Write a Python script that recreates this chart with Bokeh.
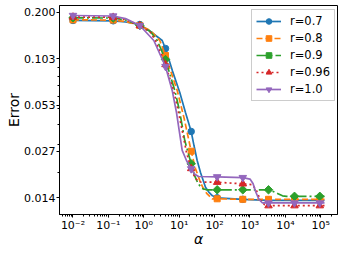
import numpy as np
from bokeh.plotting import figure
from bokeh.models import Range1d, FixedTicker, CustomJSTickFormatter, Legend, LegendItem
from bokeh.embed import file_html
from bokeh.resources import INLINE

# ---------------- data ----------------
series_labels = ["r=0.7", "r=0.8", "r=0.9", "r=0.96", "r=1.0"]

# alpha positions of the markers (log10 of alpha)
marker_log10_alpha = [-2.0, -0.864, -0.113, 0.613, 1.339, 2.073, 2.797, 3.523, 4.257, 4.972]

err_markers_r07 = [0.1777, 0.1768, 0.1677, 0.1189, 0.0362, 0.0140, 0.0137, 0.0135, 0.0135, 0.0135]
err_markers_r08 = [0.1792, 0.1787, 0.1654, 0.1076, 0.0273, 0.0138, 0.0137, 0.0137, 0.0137, 0.0137]
err_markers_r09 = [0.1846, 0.1840, 0.1654, 0.1015, 0.0228, 0.0157, 0.0157, 0.0157, 0.0143, 0.0143]
err_markers_r096 = [0.1867, 0.1861, 0.1654, 0.0945, 0.0213, 0.0175, 0.0171, 0.0125, 0.0125, 0.0125]
err_markers_r10 = [0.1908, 0.1894, 0.1654, 0.0919, 0.0212, 0.0189, 0.0187, 0.0130, 0.0130, 0.0130]

# curve points (log10 alpha, error)
line_log10_alpha_r07 = [-2.0, -0.864, -0.517, -0.113, 0.189, 0.520, 0.613, 0.811, 1.017, 1.178, 1.339,
                        1.418, 1.508, 1.602, 1.743, 1.836, 1.941, 2.073, 2.797, 3.523, 4.257, 5.105]
line_err_r07 = [0.1777, 0.1768, 0.1738, 0.1677, 0.1517, 0.1334, 0.1189, 0.0860, 0.0633, 0.0475, 0.0362,
                0.0296, 0.0239, 0.0201, 0.0163, 0.0152, 0.0144, 0.0140, 0.0137, 0.0135, 0.0135, 0.0135]

line_log10_alpha_r08 = [-2.0, -0.864, -0.517, -0.113, 0.189, 0.452, 0.613, 0.774, 0.944, 1.141, 1.339,
                        1.460, 1.602, 1.701, 1.791, 1.932, 2.073, 2.797, 3.523, 4.257, 5.105]
line_err_r08 = [0.1792, 0.1787, 0.1749, 0.1654, 0.1538, 0.1334, 0.1076, 0.0843, 0.0652, 0.0436, 0.0273,
                0.0213, 0.0174, 0.0157, 0.0148, 0.0138, 0.0138, 0.0137, 0.0137, 0.0137, 0.0137]

line_log10_alpha_r09 = [-2.0, -0.864, -0.517, -0.113, 0.189, 0.379, 0.613, 0.740, 0.876, 1.008, 1.158,
                        1.339, 1.432, 1.531, 1.644, 1.771, 2.073, 2.797, 3.523, 3.636, 3.777, 3.918,
                        4.031, 4.257, 5.105]
line_err_r09 = [0.1846, 0.1840, 0.1788, 0.1654, 0.1516, 0.1334, 0.1015, 0.0819, 0.0652, 0.0489, 0.0318,
                0.0228, 0.0193, 0.0172, 0.0160, 0.0157, 0.0157, 0.0157, 0.0157, 0.0154, 0.0149, 0.0144,
                0.0143, 0.0143, 0.0143]

line_log10_alpha_r096 = [-2.0, -0.864, -0.517, -0.113, 0.189, 0.331, 0.613, 0.726, 0.839, 0.952, 1.085,
                         1.206, 1.339, 1.432, 1.531, 1.630, 2.073, 2.797, 3.071, 3.184, 3.297, 3.410,
                         3.523, 4.257, 5.105]
line_err_r096 = [0.1867, 0.1861, 0.1800, 0.1654, 0.1496, 0.1334, 0.0945, 0.0785, 0.0652, 0.0511, 0.0367,
                 0.0268, 0.0213, 0.0190, 0.0177, 0.0175, 0.0175, 0.0171, 0.0169, 0.0155, 0.0135, 0.0127,
                 0.0125, 0.0125, 0.0125]

line_log10_alpha_r10 = [-2.0, -0.864, -0.517, -0.113, 0.283, 0.613, 0.802, 0.924, 1.085, 1.206, 1.339,
                        1.432, 1.545, 2.073, 2.797, 3.000, 3.085, 3.169, 3.254, 3.353, 3.523, 4.257, 5.105]
line_err_r10 = [0.1908, 0.1894, 0.1826, 0.1654, 0.1334, 0.0919, 0.0652, 0.0475, 0.0276, 0.0239, 0.0212,
                0.0197, 0.0190, 0.0189, 0.0187, 0.0183, 0.0172, 0.0151, 0.0137, 0.0130, 0.0130, 0.0130, 0.0130]

ytick_values = [0.200, 0.1029, 0.0529, 0.0272, 0.0140]
ytick_minor = [0.02, 0.03, 0.04, 0.05, 0.06, 0.07, 0.08, 0.09]
xtick_values = [1e-2, 1e-1, 1e0, 1e1, 1e2, 1e3, 1e4, 1e5]

# ---------------- styling ----------------
colors = ["#1f77b4", "#ff7f0e", "#2ca02c", "#d62728", "#9467bd"]
dashes = ["solid", "6 3", "11 3 2 3", "2 3", "solid"]
markers = ["circle", "square", "square", "triangle", "inverted_triangle"]
marker_sizes = [6.5, 6, 6, 7.5, 7.5]
marker_angles = [0, 0, np.pi / 4, 0, 0]

marker_err = [err_markers_r07, err_markers_r08, err_markers_r09, err_markers_r096, err_markers_r10]
line_x = [line_log10_alpha_r07, line_log10_alpha_r08, line_log10_alpha_r09, line_log10_alpha_r096, line_log10_alpha_r10]
line_y = [line_err_r07, line_err_r08, line_err_r09, line_err_r096, line_err_r10]

FONT = "DejaVu Sans"

p = figure(width=346, height=253, x_axis_type="log", y_axis_type="log",
           x_range=Range1d(10 ** -2.381, 10 ** 5.472), y_range=Range1d(0.01102, 0.2202),
           output_backend="svg", toolbar_location=None,
           min_border_left=59, min_border_right=9, min_border_top=5, min_border_bottom=39)
p.background_fill_color = "white"
p.border_fill_color = "white"
p.outline_line_color = "black"
p.outline_line_width = 1
p.outline_line_alpha = 1
p.xgrid.visible = False
p.ygrid.visible = False

xfmt = CustomJSTickFormatter(code="""
const sup = {'-': '\u207b', '0': '\u2070', '1': '\u00b9', '2': '\u00b2', '3': '\u00b3',
             '4': '\u2074', '5': '\u2075', '6': '\u2076', '7': '\u2077', '8': '\u2078', '9': '\u2079'};
const e = Math.round(Math.log10(tick));
return '10' + String(e).split('').map(c => sup[c]).join('');
""")
xminor = [m * 10.0 ** d for d in range(-3, 6) for m in range(2, 10)]
p.xaxis.ticker = FixedTicker(ticks=xtick_values, minor_ticks=xminor)
p.xaxis.formatter = xfmt
p.yaxis.ticker = FixedTicker(ticks=ytick_values, minor_ticks=ytick_minor)
p.yaxis.formatter = CustomJSTickFormatter(code="return tick.toFixed(3);")

for ax in (p.xaxis[0], p.yaxis[0]):
    ax.axis_line_color = "black"
    ax.major_tick_line_color = "black"
    ax.minor_tick_line_color = "black"
    ax.major_tick_out = 3
    ax.major_tick_in = 0
    ax.minor_tick_out = 2
    ax.minor_tick_in = 0
    ax.major_label_text_font = FONT
    ax.major_label_text_font_size = "11px"
    ax.major_label_text_color = "black"
    ax.axis_label_text_font = FONT
    ax.axis_label_text_font_size = "14px"
    ax.axis_label_text_color = "black"

p.xaxis.axis_label = "α"
p.xaxis.axis_label_text_font_style = "italic"
p.xaxis.major_label_standoff = 1
p.xaxis.axis_label_standoff = -4
p.yaxis.axis_label = "Error"
p.yaxis.axis_label_text_font_style = "normal"
p.yaxis.major_label_standoff = 1
p.yaxis.axis_label_standoff = -1

items = []
mx = [10 ** v for v in marker_log10_alpha]
for i in range(5):
    lx = [10 ** v for v in line_x[i]]
    lr = p.line(lx, line_y[i], line_color=colors[i], line_width=1.7, line_dash=dashes[i])
    sr = p.scatter(mx, marker_err[i], marker=markers[i], size=marker_sizes[i], angle=marker_angles[i],
                   fill_color=colors[i], line_color=colors[i], line_width=1)
    items.append(LegendItem(label=series_labels[i], renderers=[lr, sr]))

legend = Legend(items=items, location=(192, 113), margin=0, padding=4, spacing=3,
                glyph_width=25, glyph_height=14, label_height=14, label_standoff=9,
                label_text_font=FONT, label_text_font_size="11.5px", label_text_color="black",
                border_line_color="#cccccc", border_line_width=1, border_line_alpha=1,
                background_fill_color="white", background_fill_alpha=0.8)
p.add_layout(legend)

open("out.html", "w").write(file_html(p, INLINE))
